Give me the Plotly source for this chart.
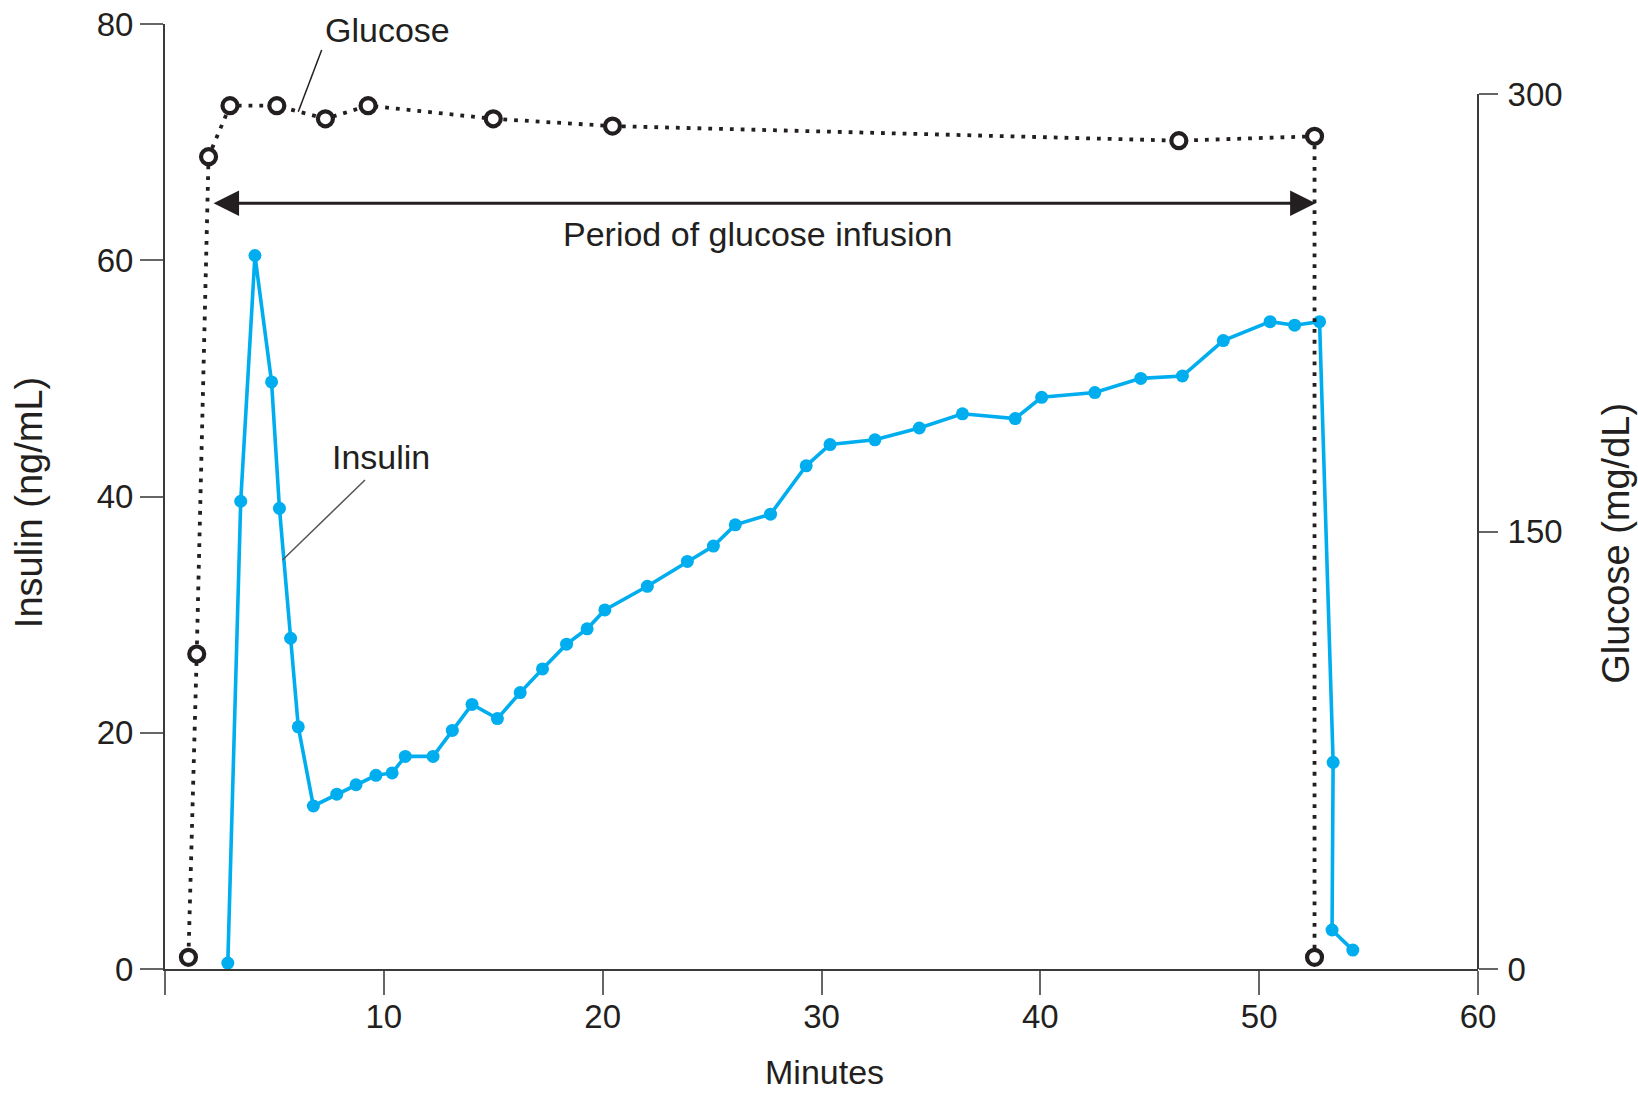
import plotly.graph_objects as go

# ---------------- data ----------------
minutes_insulin = [2.87, 3.46, 4.11, 4.87, 5.23, 5.74, 6.09, 6.78, 7.85, 8.73,
                   9.64, 10.38, 10.98, 12.25, 13.13, 14.03, 15.19, 16.23, 17.25, 18.35,
                   19.29, 20.10, 22.04, 23.87, 25.06, 26.06, 27.67, 29.30, 30.39, 32.44,
                   34.47, 36.44, 38.85, 40.06, 42.49, 44.59, 46.49, 48.36, 50.50, 51.62,
                   52.76, 53.38, 53.33, 54.28]
insulin = [0.5, 39.6, 60.4, 49.7, 39.0, 28.0, 20.5, 13.8, 14.8, 15.6,
           16.4, 16.6, 18.0, 18.0, 20.2, 22.4, 21.2, 23.4, 25.4, 27.5,
           28.8, 30.4, 32.4, 34.5, 35.8, 37.6, 38.5, 42.6, 44.4, 44.8,
           45.8, 47.0, 46.6, 48.4, 48.8, 50.0, 50.2, 53.2, 54.8, 54.5,
           54.8, 17.5, 3.3, 1.6]

minutes_glucose = [1.07, 1.45, 1.99, 2.97, 5.11, 7.33, 9.28, 15.0, 20.45, 46.33, 52.53, 52.53]
glucose = [4, 108, 278.5, 296, 296, 291.5, 296, 291.5, 289, 284, 285.5, 4]

x_ticks = [0, 10, 20, 30, 40, 50, 60]
x_tick_labels = ["", "10", "20", "30", "40", "50", "60"]
insulin_ticks = [0, 20, 40, 60, 80]
glucose_ticks = [0, 150, 300]

infusion_start, infusion_end = 2.15, 52.58

# ---------------- styles ----------------
INK = "#231f20"
CYAN = "#00aeef"
AXIS = "#3a3a3a"
TICK = "#666666"
FONT = "Liberation Sans, Arial, Helvetica, sans-serif"

fig = go.Figure()

fig.add_trace(go.Scatter(
    x=minutes_glucose, y=glucose, yaxis="y2", mode="lines+markers",
    line=dict(color=INK, width=3.8, dash="3.8px,7px"),
    marker=dict(symbol="circle", size=15, color="white",
                line=dict(color=INK, width=4.2)),
    cliponaxis=False, showlegend=False, name="Glucose"))

fig.add_trace(go.Scatter(
    x=minutes_insulin, y=insulin, mode="lines+markers",
    line=dict(color=CYAN, width=3.6),
    marker=dict(symbol="circle", size=13, color=CYAN),
    cliponaxis=False, showlegend=False, name="Insulin"))

tickfont = dict(family=FONT, size=33, color=INK)

fig.update_layout(
    template="none",
    width=1638, height=1093, autosize=False,
    margin=dict(l=165, r=160, t=24, b=124, pad=0),
    paper_bgcolor="white", plot_bgcolor="white",
    font=dict(family=FONT, color=INK),
    xaxis=dict(range=[0, 60], tickvals=x_ticks, ticktext=x_tick_labels,
               ticks="outside", ticklen=24, tickwidth=2, tickcolor=TICK,
               showline=True, linecolor=AXIS, linewidth=2, automargin=False,
               ticklabelstandoff=-7,
               showgrid=False, zeroline=False, tickfont=tickfont),
    yaxis=dict(range=[0, 80], tickvals=insulin_ticks,
               ticks="outside", ticklen=23, tickwidth=2, tickcolor=TICK,
               showline=True, linecolor=AXIS, linewidth=2, automargin=False,
               showgrid=False, zeroline=False, tickfont=tickfont),
    yaxis2=dict(range=[0, 324], tickvals=glucose_ticks, overlaying="y", side="right",
                ticks="outside", ticklen=19, tickwidth=2, tickcolor=TICK,
                automargin=False, ticklabelstandoff=3,
                showline=False, showgrid=False, zeroline=False, tickfont=tickfont),
)

# right axis line only up to 300
fig.add_shape(type="line", xref="paper", x0=1, x1=1, yref="y2", y0=0, y1=300,
              line=dict(color=AXIS, width=2))

# leader lines for labels
fig.add_shape(type="line", xref="x", yref="y", x0=6.09, y0=72.57, x1=7.16, y1=77.8,
              line=dict(color=INK, width=1.5))
fig.add_shape(type="line", xref="x", yref="y", x0=5.37, y0=34.62, x1=9.14, y1=41.40,
              line=dict(color="#555555", width=1.5))

# double headed arrow for infusion period
fig.add_annotation(x=infusion_end, y=64.82, ax=infusion_start, ay=64.82,
                   xref="x", yref="y", axref="x", ayref="y", text="",
                   showarrow=True, arrowside="end+start",
                   arrowhead=2, startarrowhead=2, arrowsize=1.7, startarrowsize=1.7,
                   arrowwidth=3, arrowcolor=INK, standoff=0, startstandoff=0)

lab = dict(family=FONT, size=34, color=INK)
fig.add_annotation(x=10.17, y=79.5, xref="x", yref="y", text="Glucose",
                   showarrow=False, font=lab, xanchor="center", yanchor="middle")
fig.add_annotation(x=9.85, y=43.34, xref="x", yref="y", text="Insulin",
                   showarrow=False, font=lab, xanchor="center", yanchor="middle")
fig.add_annotation(x=27.08, y=62.22, xref="x", yref="y", text="Period of glucose infusion",
                   showarrow=False, font=lab, xanchor="center", yanchor="middle")

# axis titles
fig.add_annotation(x=-0.1036, y=0.494, xref="paper", yref="paper", text="Insulin (ng/mL)",
                   textangle=-90, showarrow=False, xanchor="center", yanchor="middle",
                   font=dict(family=FONT, size=38, color=INK))
fig.add_annotation(x=1.1051, y=0.451, xref="paper", yref="paper", text="Glucose (mg/dL)",
                   textangle=-90, showarrow=False, xanchor="center", yanchor="middle",
                   font=dict(family=FONT, size=38, color=INK))
fig.add_annotation(x=0.502, y=-0.109, xref="paper", yref="paper", text="Minutes",
                   showarrow=False, xanchor="center", yanchor="middle",
                   font=dict(family=FONT, size=34, color=INK))

fig.write_html("out.html", config={"displayModeBar": False},
               post_script="document.body.style.margin='0';")
